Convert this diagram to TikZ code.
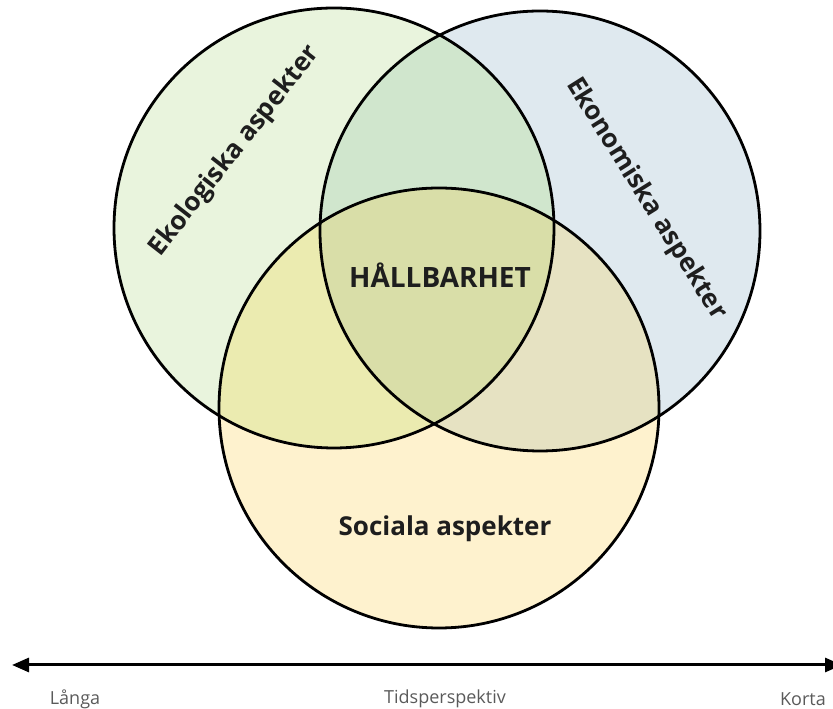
\documentclass[tikz,border=0pt]{standalone}
\usepackage{fontspec}
\setmainfont{Open Sans}
\usetikzlibrary{arrows.meta}

\definecolor{ekofill}{HTML}{E9F4DD}
\definecolor{ekonfill}{HTML}{DFE9EF}
\definecolor{socfill}{HTML}{FEF2CE}
\definecolor{ekoekon}{HTML}{D0E6CD}
\definecolor{ekosoc}{HTML}{EBEBB0}
\definecolor{ekonsoc}{HTML}{E6E2C2}
\definecolor{allthree}{HTML}{D9DEA8}
\definecolor{textdark}{HTML}{1E1E1E}
\definecolor{axisgray}{HTML}{5A5A5A}
\definecolor{innerline}{HTML}{2E3318}

\begin{document}
\begin{tikzpicture}[x=1pt, y=1pt,
        ring/.style={draw=black, line width=2.8pt},
        areatext/.style={font=\fontsize{26}{30}\selectfont\bfseries, text=textdark},
        axistext/.style={font=\fontsize{18}{21}\selectfont, text=axisgray},
        >={Triangle[length=17pt, width=14pt]}]
        \useasboundingbox (0, 0) rectangle (833, 709);
        \clip (0, 0) rectangle (833, 709);

        \coordinate (L) at (334, 481);
        \coordinate (R) at (540, 478);
        \coordinate (B) at (439, 301);

        % Circles
        \fill[ekofill] (L) circle[radius=220];
        \fill[ekonfill] (R) circle[radius=220];
        \fill[socfill] (B) circle[radius=220];

        % Overlaps
        \begin{scope}
            \clip (L) circle[radius=220];
            \fill[ekoekon] (R) circle[radius=220];
            \fill[ekosoc] (B) circle[radius=220];
        \end{scope}
        \begin{scope}
            \clip (R) circle[radius=220];
            \fill[ekonsoc] (B) circle[radius=220];
        \end{scope}
        \begin{scope}
            \clip (L) circle[radius=220];
            \clip (R) circle[radius=220];
            \fill[allthree] (B) circle[radius=220];
        \end{scope}

        % Outlines
        \draw[ring] (L) circle[radius=220];
        \draw[ring] (R) circle[radius=220];
        \draw[ring] (B) circle[radius=220];

        % Texts in the circles
        \node[areatext, rotate=52] (eko) at (235, 558) {Ekologiska aspekter};
        \node[areatext, rotate=-58] (ekon) at (646, 510) {Ekonomiska aspekter};
        \node[areatext, font=\fontsize{28}{32}\selectfont\bfseries] (hall) at (440, 434) {HÅLLBARHET};
        \node[areatext] (soc) at (445, 180) {Sociala aspekter};

        % Time axis
        \coordinate (lang) at (12, 44);
        \coordinate (kort) at (842, 44);
        \draw[<->, line width=3pt] (lang) -- (kort);
        \node[axistext] (langa) at (75, 10) {Långa};
        \node[axistext] (tid) at (445, 10) {Tidsperspektiv};
        \node[axistext] (korta) at (803, 10) {Korta};

    \end{tikzpicture}
\end{document}
